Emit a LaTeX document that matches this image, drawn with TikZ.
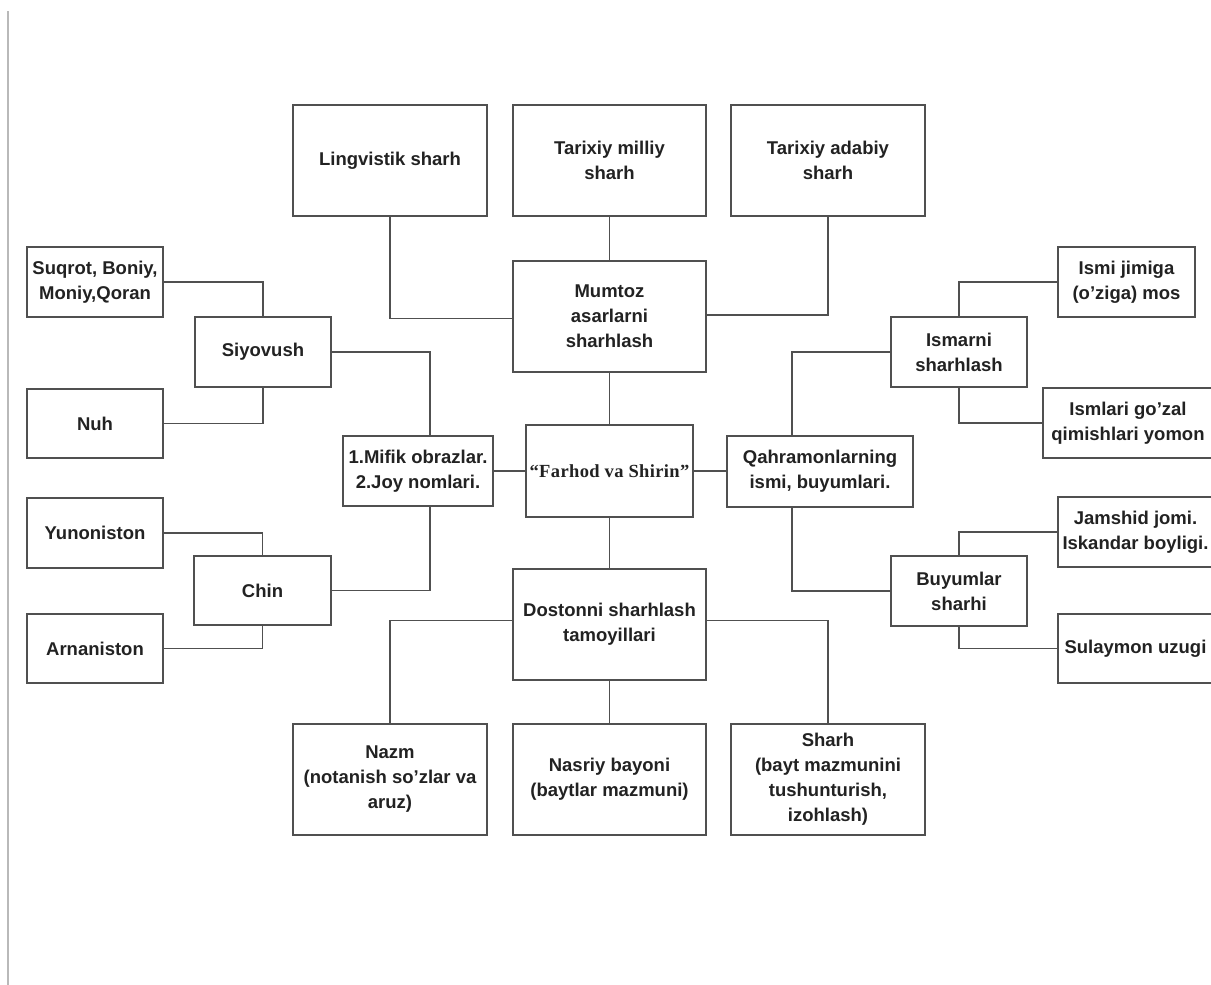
\documentclass[tikz,border=0pt]{standalone}
\usepackage{fontspec}
\setmainfont{Liberation Sans}
\newfontfamily\titleserif[LetterSpace=2]{Liberation Serif}
\definecolor{edge}{HTML}{505050}
\definecolor{ink}{HTML}{222222}
\begin{document}
\begin{tikzpicture}[x=1pt,y=-1pt,
  box/.style={draw=edge, line width=1.8pt, fill=white, inner sep=0pt,
    align=center, text=ink, font=\fontsize{18.5}{25}\selectfont\bfseries},
  link/.style={draw=edge, line width=1.8pt}]
\useasboundingbox (0,0) rectangle (1211,985);
\clip (0,0) rectangle (1211,985);
\fill[white] (0,0) rectangle (1211,985);
% thin rule at the left margin
\draw[gray!55, line width=1.2pt] (8,11) -- (8,985);

% top row
\node[box, minimum width=194pt, minimum height=111pt] (ling)  at (390,160.5) {Lingvistik sharh};
\node[box, minimum width=193pt, minimum height=111pt] (milli) at (609.5,160.5) {Tarixiy milliy\\sharh};
\node[box, minimum width=194pt, minimum height=111pt] (adab)  at (828,160.5) {Tarixiy adabiy\\sharh};

% central column
\node[box, minimum width=193pt, minimum height=111pt] (mumtoz) at (609.5,316.5) {Mumtoz\\asarlarni\\sharhlash};
\node[box, minimum width=167pt, minimum height=92pt, font=\fontsize{18.5}{22}\selectfont\bfseries\titleserif] (farhod) at (609.5,471) {“Farhod va Shirin”};
\node[box, minimum width=193pt, minimum height=111pt] (dost) at (609.5,624.5) {Dostonni sharhlash\\tamoyillari};

% left branch
\node[box, minimum width=150pt, minimum height=70pt] (mifik) at (418,471) {1.Mifik obrazlar.\\2.Joy nomlari.};
\node[box, minimum width=136pt, minimum height=70pt] (siyo) at (263,352) {Siyovush};
\node[box, minimum width=137pt, minimum height=69pt] (chin) at (262.5,590.5) {Chin};
\node[box, minimum width=136pt, minimum height=70pt] (suq) at (95,282) {Suqrot, Boniy,\\Moniy,Qoran};
\node[box, minimum width=136pt, minimum height=69pt] (nuh) at (95,423.5) {Nuh};
\node[box, minimum width=136pt, minimum height=70pt] (yun) at (95,533) {Yunoniston};
\node[box, minimum width=136pt, minimum height=69pt] (arm) at (95,648.5) {Arnaniston};

% right branch
\node[box, minimum width=186pt, minimum height=71pt] (qahr) at (820,471.5) {Qahramonlarning\\ismi, buyumlari.};
\node[box, minimum width=136pt, minimum height=70pt] (ism) at (959,352) {Ismarni\\sharhlash};
\node[box, minimum width=136pt, minimum height=70pt] (buy) at (959,591) {Buyumlar\\sharhi};
\node[box, minimum width=137pt, minimum height=70pt] (jim) at (1126.5,282) {Ismi jimiga\\(o’ziga) mos};
\node[box, minimum width=170pt, minimum height=70pt] (goz) at (1128,423) {Ismlari go’zal\\qimishlari yomon};
\node[box, minimum width=155pt, minimum height=70pt] (jam) at (1135.5,532) {Jamshid jomi.\\Iskandar boyligi.};
\node[box, minimum width=155pt, minimum height=69pt] (sul) at (1135.5,648.5) {Sulaymon uzugi};

% bottom row
\node[box, minimum width=194pt, minimum height=111pt] (nazm)  at (390,779.5) {Nazm\\(notanish so’zlar va\\aruz)};
\node[box, minimum width=193pt, minimum height=111pt] (nasr)  at (609.5,779.5) {Nasriy bayoni\\(baytlar mazmuni)};
\node[box, minimum width=194pt, minimum height=111pt] (sharh) at (828,779.5) {Sharh\\(bayt mazmunini\\tushunturish,\\izohlash)};

% connectors
\draw[link] (ling.south) |- ([yshift=-2pt]mumtoz.west);
\draw[link] (milli.south) -- (mumtoz.north);
\draw[link] (adab.south) |- ([yshift=1.5pt]mumtoz.east);
\draw[link] (mumtoz.south) -- (farhod.north);
\draw[link] (farhod.west) -- (mifik.east);
\draw[link] (farhod.east) -- (qahr.west |- farhod.east);
\draw[link] (farhod.south) -- (dost.north);

\draw[link] (siyo.east) -| ([xshift=12pt]mifik.north);
\draw[link] ([xshift=12pt]mifik.south) |- (chin.east);
\draw[link] (suq.east) -| (siyo.north);
\draw[link] (nuh.east) -| (siyo.south);
\draw[link] (yun.east) -| (chin.north);
\draw[link] (arm.east) -| (chin.south);

\draw[link] ([xshift=-28pt]qahr.north) |- (ism.west);
\draw[link] ([xshift=-28pt]qahr.south) |- (buy.west);
\draw[link] (ism.north) |- (jim.west);
\draw[link] (ism.south) |- (goz.west);
\draw[link] (buy.north) |- (jam.west);
\draw[link] (buy.south) |- (sul.west);

\draw[link] ([yshift=4pt]dost.west) -| (nazm.north);
\draw[link] (dost.south) -- (nasr.north);
\draw[link] ([yshift=4pt]dost.east) -| (sharh.north);
\end{tikzpicture}
\end{document}
